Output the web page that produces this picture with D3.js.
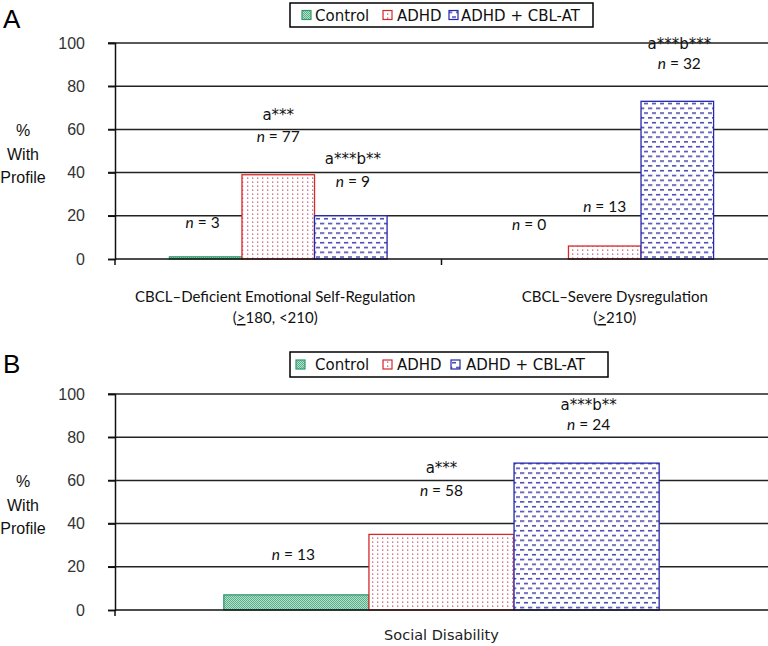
<!DOCTYPE html>
<html><head><meta charset="utf-8">
<script src="https://cdn.jsdelivr.net/npm/d3@7"></script>
<style>body{margin:0;background:#fff}</style>
</head><body><svg id="c" width="768" height="646" xmlns="http://www.w3.org/2000/svg"></svg>
<script>
// ---------- DATA ----------
const seriesNames = ["Control", "ADHD", "ADHD + CBL-AT"];
const yTicks = [0, 20, 40, 60, 80, 100];

const catsA = ["CBCL–Deficient Emotional Self-Regulation", "CBCL–Severe Dysregulation"];
const catsA_sub = ["(≥180, <210)", "(≥210)"];
const controlA = [1, 0];
const adhdA = [39, 6];
const cblA = [20, 73];
const nControlA = [3, 0];
const nAdhdA = [77, 13];
const nCblA = [9, 32];
const sigAdhdA = ["a***", ""];
const sigCblA = ["a***b**", "a***b***"];

const catsB = ["Social Disability"];
const controlB = [7];
const adhdB = [35];
const cblB = [68];
const nControlB = [13];
const nAdhdB = [58];
const nCblB = [24];
const sigAdhdB = ["a***"];
const sigCblB = ["a***b**"];

// ---------- LAYOUT (annotation heights in % units; [sigY, nY] per category) ----------
const annA = {
  control: [[null, 16.7], [null, 16.2]],
  adhd:    [[66.7, 56.5], [null, 24.1]],
  cbl:     [[46.3, 36.1], [100, 90.7]]
};
const annB = {
  control: [[null, 25.5]],
  adhd:    [[66.2, 55.1]],
  cbl:     [[95.0, 85.8]]
};
const annDx = {control: -3, adhd: 0, cbl: 2};

const svg = d3.select("#c");
const defs = svg.append("defs");

// patterns
const pg = defs.append("pattern").attr("id", "pGreen").attr("patternUnits", "userSpaceOnUse")
  .attr("width", 2).attr("height", 2);
pg.append("rect").attr("width", 2).attr("height", 2).attr("fill", "#b3e2cc");
pg.append("rect").attr("x", 0).attr("y", 0).attr("width", 1).attr("height", 1).attr("fill", "#5cae8a");
pg.append("rect").attr("x", 1).attr("y", 1).attr("width", 1).attr("height", 1).attr("fill", "#5cae8a");

const pr = defs.append("pattern").attr("id", "pRed").attr("patternUnits", "userSpaceOnUse")
  .attr("width", 5).attr("height", 4);
pr.append("rect").attr("width", 5).attr("height", 4).attr("fill", "#fff");
pr.append("rect").attr("x", 2).attr("y", 1.5).attr("width", 1.3).attr("height", 1.3).attr("fill", "#c65a78");

const pb = defs.append("pattern").attr("id", "pBlue").attr("patternUnits", "userSpaceOnUse")
  .attr("width", 8).attr("height", 9.6);
pb.append("rect").attr("width", 8).attr("height", 9.6).attr("fill", "#fff");
pb.append("rect").attr("x", 0).attr("y", 2).attr("width", 4.3).attr("height", 1.4).attr("fill", "#3535a8");
pb.append("rect").attr("x", 4).attr("y", 6.8).attr("width", 4.3).attr("height", 1.4).attr("fill", "#3535a8");

const styles = {
  control: {fill: "url(#pGreen)", stroke: "#2f9a6c"},
  adhd: {fill: "url(#pRed)", stroke: "#d42a2a"},
  cbl: {fill: "url(#pBlue)", stroke: "#2626b0"}
};
const keys = ["control", "adhd", "cbl"];

function legend(x0, y0, w, h, pos) {
  const g = svg.append("g");
  g.append("rect").attr("x", x0).attr("y", y0).attr("width", w).attr("height", h)
    .attr("fill", "#fff").attr("stroke", "#000").attr("stroke-width", 1.5);
  keys.forEach((k, i) => {
    const p = pos[i];
    g.append("rect").attr("x", p[0]).attr("y", y0 + h / 2 - 4.5).attr("width", 9).attr("height", 9)
      .attr("fill", styles[k].fill).attr("stroke", styles[k].stroke).attr("stroke-width", 1.2);
    g.append("text").attr("x", p[1]).attr("y", y0 + h / 2 + 5.5)
      .attr("font-family", "DejaVu Sans").attr("font-size", 15).attr("fill", "#111")
      .text(seriesNames[i]);
  });
}

function panel(opt) {
  const {cats, vals, ns, sigs, ann, top, bottom, letter, letterY} = opt;
  const y = d3.scaleLinear().domain([0, 100]).range([bottom, top]);
  const x = d3.scaleBand().domain(cats).range([115, 768]).paddingInner(0).paddingOuter(0);
  const bw = x.bandwidth();
  const xs = d3.scaleBand().domain(keys).range([bw / 6, bw * 5 / 6]);
  const g = svg.append("g");

  // gridlines
  g.append("g").selectAll("line").data(yTicks.filter(d => d > 0)).join("line")
    .attr("x1", 108).attr("x2", 768).attr("y1", d => y(d)).attr("y2", d => y(d))
    .attr("stroke", "#222").attr("stroke-width", 1.5);

  // bars
  keys.forEach((k, ki) => {
    g.append("g").selectAll("rect").data(cats.map((c, i) => ({c, v: vals[ki][i]}))).join("rect")
      .filter(d => d.v > 0)
      .attr("x", d => x(d.c) + xs(k)).attr("width", xs.bandwidth())
      .attr("y", d => y(d.v)).attr("height", d => y(0) - y(d.v))
      .attr("fill", styles[k].fill).attr("stroke", styles[k].stroke).attr("stroke-width", 1.3);
  });

  // y axis
  const ya = g.append("g").attr("transform", "translate(115,0)")
    .call(d3.axisLeft(y).tickValues(yTicks).tickSize(7).tickPadding(23));
  ya.select(".domain").attr("stroke", "#111").attr("stroke-width", 1.5);
  ya.selectAll(".tick line").attr("stroke", "#111").attr("stroke-width", 1.5);
  ya.selectAll(".tick text").attr("font-family", "Liberation Sans").attr("font-size", 16)
    .attr("fill", "#333");

  // x axis
  g.append("line").attr("x1", 115).attr("x2", 768).attr("y1", y(0)).attr("y2", y(0))
    .attr("stroke", "#111").attr("stroke-width", 1.5);
  const bounds = [115].concat(cats.slice(1).map(c => x(c)));
  g.append("g").selectAll("line").data(bounds).join("line")
    .attr("x1", d => d).attr("x2", d => d).attr("y1", y(0)).attr("y2", y(0) + 6)
    .attr("stroke", "#111").attr("stroke-width", 1.5);

  // y title
  const yt = g.append("text").attr("text-anchor", "middle").attr("font-family", "Liberation Sans")
    .attr("font-size", 16).attr("fill", "#111");
  ["%", "With", "Profile"].forEach((t, i) => {
    yt.append("tspan").attr("x", 23).attr("y", (top + bottom) / 2 - 15 + i * 23.5).text(t);
  });

  // annotations
  keys.forEach((k, ki) => {
    cats.forEach((c, i) => {
      const cx = x(c) + xs(k) + xs.bandwidth() / 2 + annDx[k];
      const a = ann[k][i];
      if (a[0] !== null && sigs[ki][i]) {
        g.append("text").attr("x", cx).attr("y", y(a[0]) + 5.5).attr("text-anchor", "middle")
          .attr("font-family", "DejaVu Sans").attr("font-size", 15).attr("fill", "#111")
          .text(sigs[ki][i]);
      }
      if (a[1] !== null) {
        const t = g.append("text").attr("x", cx).attr("y", y(a[1]) + 5.5).attr("text-anchor", "middle")
          .attr("font-family", "Lato").attr("font-size", 15.5).attr("fill", "#111");
        t.append("tspan").attr("font-style", "italic").text("n");
        t.append("tspan").text(" = " + ns[ki][i]);
      }
    });
  });

  // letter
  svg.append("text").attr("x", 3).attr("y", letterY).attr("font-family", "Liberation Sans")
    .attr("font-size", 26).attr("fill", "#000").text(letter);

  return {x, y};
}

// Panel A
const A = panel({
  cats: catsA, vals: [controlA, adhdA, cblA], ns: [nControlA, nAdhdA, nCblA],
  sigs: [["", ""], sigAdhdA, sigCblA], ann: annA, top: 43, bottom: 259, letter: "A", letterY: 28
});
const labDx = [-3, 10];
catsA.forEach((c, i) => {
  const cx = A.x(c) + A.x.bandwidth() / 2 + labDx[i];
  svg.append("text").attr("x", cx).attr("y", 302).attr("text-anchor", "middle")
    .attr("font-family", "Lato").attr("font-size", 15).attr("fill", "#111").text(c);
  const s = catsA_sub[i];
  const t = svg.append("text").attr("x", cx).attr("y", 323).attr("text-anchor", "middle")
    .attr("font-family", "Lato").attr("font-size", 15).attr("fill", "#111");
  const parts = s.split("≥");
  t.append("tspan").text(parts[0]);
  t.append("tspan").attr("text-decoration", "underline").text(">");
  t.append("tspan").text(parts[1]);
});
legend(290, 3, 303, 24, [[302, 315], [383, 397], [449, 461]]);

// Panel B
const B = panel({
  cats: catsB, vals: [controlB, adhdB, cblB], ns: [nControlB, nAdhdB, nCblB],
  sigs: [[""], sigAdhdB, sigCblB], ann: annB, top: 394, bottom: 610, letter: "B", letterY: 373
});
catsB.forEach(c => {
  svg.append("text").attr("x", B.x(c) + B.x.bandwidth() / 2).attr("y", 640).attr("text-anchor", "middle")
    .attr("font-family", "DejaVu Sans").attr("font-size", 14.5).attr("fill", "#222").text(c);
});
legend(290, 352, 318, 25, [[296, 315], [383, 397], [451, 466]]);
</script>
</body></html>
